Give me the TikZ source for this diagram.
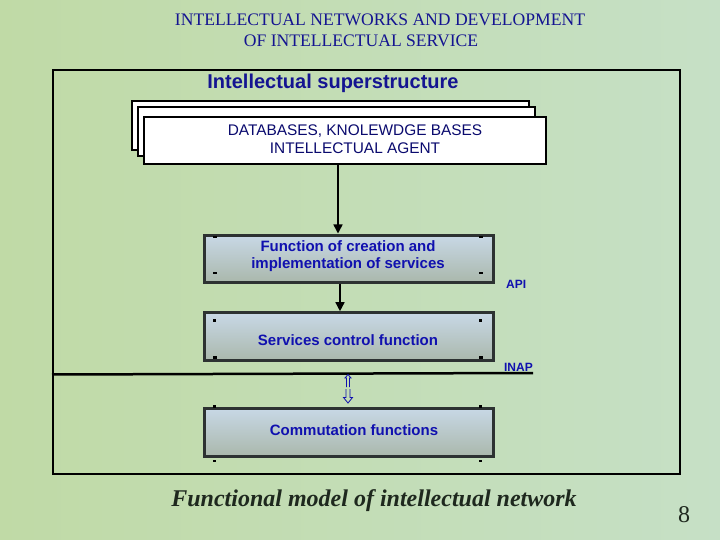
\documentclass[tikz,border=0pt]{standalone}
\usepackage{fontspec}
\setmainfont{Liberation Serif}
\newfontfamily\arialf{Liberation Sans}
\usetikzlibrary{arrows.meta,calc}
\definecolor{bgA}{RGB}{192,218,166}
\definecolor{bgB}{RGB}{198,224,198}
\definecolor{titleblue}{RGB}{20,20,145}
\definecolor{txtblue}{RGB}{16,16,175}
\definecolor{dbblue}{RGB}{10,10,110}
\definecolor{boxtop}{RGB}{200,216,230}
\definecolor{boxbot}{RGB}{170,184,172}
\definecolor{boxedge}{RGB}{45,50,50}
\definecolor{captioncol}{RGB}{30,40,30}
\begin{document}
\begin{tikzpicture}[x=1pt,y=-1pt,
  funcbox/.style={draw=boxedge, line width=3pt, top color=boxtop, bottom color=boxbot,
    minimum width=289pt, inner sep=0pt},
  functext/.style={font=\arialf\bfseries\fontsize{15}{17}\selectfont, text=txtblue, align=center, inner sep=0pt},
  dbbox/.style={draw=black, line width=2pt, fill=white, inner sep=0pt},
  conn/.style={draw=black, line width=1.5pt, -{Triangle[length=9pt,width=9pt]}},
  smalllab/.style={font=\arialf\bfseries\fontsize{12}{14}\selectfont, text=txtblue, inner sep=0pt},
  dblarrow/.style={draw=txtblue, line width=0.8pt, line join=miter},
  tickmark/.style={fill=black}
]
\useasboundingbox (0,0) rectangle (720,540);
\shade[left color=bgA, right color=bgB] (0,0) rectangle (720,540);

% title
\node[font=\fontsize{17.6}{20}\selectfont, text=titleblue, inner sep=0pt] (t1) at (380,20) {INTELLECTUAL NETWORKS AND DEVELOPMENT};
\node[font=\fontsize{17.6}{20}\selectfont, text=titleblue, inner sep=0pt] (t2) at (361,41) {OF INTELLECTUAL SERVICE};

% frame
\draw[line width=1.5pt] (53,70) rectangle (680,474);
\node[font=\arialf\bfseries\fontsize{20}{23}\selectfont, text=titleblue, inner sep=0pt] (sup) at (333,83) {Intellectual superstructure};

% database stack
\node[dbbox, minimum width=397pt, minimum height=49pt] (db3) at (330.5,125.5) {};
\node[dbbox, minimum width=397pt, minimum height=49pt] (db2) at (336.5,132) {};
\node[dbbox, minimum width=402pt, minimum height=47pt] (db) at (345,140.5) {};
\node[font=\arialf\fontsize{15.4}{18}\selectfont, text=dbblue, align=center, inner sep=0pt] (dbt) at (355,139)
  {DATABASES, KNOLEWDGE BASES\\INTELLECTUAL AGENT};

% function boxes
\node[funcbox, minimum height=47pt] (f1) at (348.5,258.5) {};
\node[functext] (f1t) at (348,256.5) {Function of creation and\\implementation of services};
\node[funcbox, minimum height=48pt] (f2) at (348.5,336.7) {};
\node[functext] (f2t) at (348,340) {Services control function};
\node[funcbox, minimum height=48pt] (f3) at (348.5,432) {};
\node[functext] (f3t) at (354,430) {Commutation functions};

% ticks
\foreach \xx in {213,479}{
  \fill[tickmark] (\xx,236) rectangle ++(4,2);
  \fill[tickmark] (\xx,271.5) rectangle ++(4,2);
  \fill[tickmark] (\xx,319) rectangle ++(3,2.5);
  \fill[tickmark] (\xx,355.5) rectangle ++(4,3);
  \fill[tickmark] (\xx,405) rectangle ++(3,3);
  \fill[tickmark] (\xx,459.5) rectangle ++(3,2);
}

% connectors
\draw[conn] (db.south -| 338,0) -- (f1.north -| 338,0);
\draw[conn] (f1.south -| 340,0) -- (f2.north -| 340,0);

% INAP line
\coordinate (inapL) at (52,374.5);
\coordinate (inapR) at (533,373);
\draw[line width=2.5pt] (inapL) -- (inapR);
\node[smalllab, anchor=base east] (inap) at (533,371) {INAP};
\node[smalllab, anchor=base west] (api) at (506,288) {API};

% double arrows
\draw[dblarrow] (346.5,387) -- (346.5,378) -- (345,378) -- (348,374.5) -- (351,378) -- (349.5,378) -- (349.5,387);
\draw[dblarrow] (346,389) -- (346,397.5) -- (343.5,397.5) -- (348,403) -- (352.5,397.5) -- (350,397.5) -- (350,389);

% caption
\node[font=\bfseries\itshape\fontsize{24}{28}\selectfont, text=captioncol, inner sep=0pt] (cap) at (374,501) {Functional model of intellectual network};
\node[font=\fontsize{24}{28}\selectfont, text=captioncol, inner sep=0pt] (pg) at (684,515) {8};
\end{tikzpicture}
\end{document}
